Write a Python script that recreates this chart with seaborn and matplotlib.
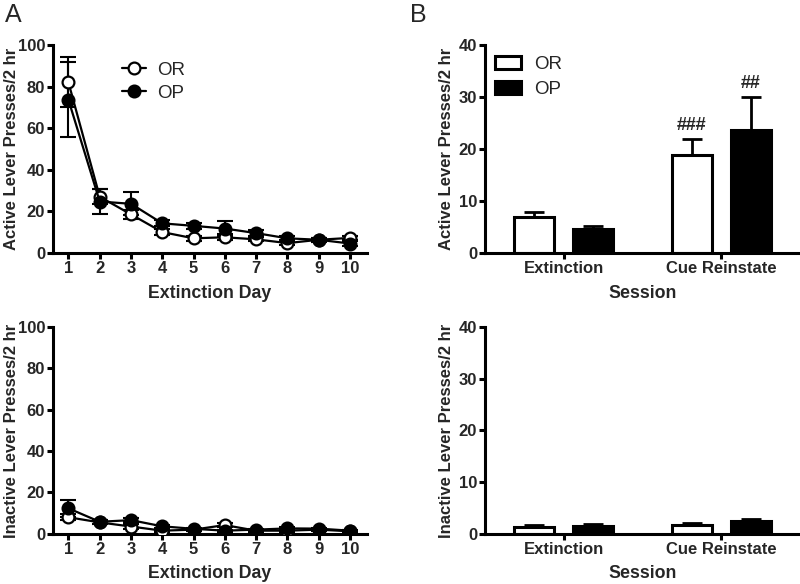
import matplotlib
import matplotlib.pyplot as plt
import numpy as np
import pandas as pd
import seaborn as sns
from matplotlib.lines import Line2D
from matplotlib.patches import Patch

matplotlib.use("Agg")

# ---- data ----
days = [1, 2, 3, 4, 5, 6, 7, 8, 9, 10]
groups = ["OR", "OP"]
sessions = ["Extinction", "Cue Reinstate"]

active_or = [82, 27, 18.5, 10, 7, 7.5, 6.5, 4.7, 6.3, 7.2]
active_or_sem = [12, 3.5, 2, 1.5, 1.2, 1.5, 1, 1, 1, 1]
active_op = [73.6, 24.7, 23.6, 14.2, 13, 11.7, 9.5, 7, 6.3, 4.5]
active_op_sem = [18, 5.8, 5.6, 1.5, 1.5, 3.8, 1.5, 1, 1, 1]

inactive_or = [8, 5.5, 3.5, 1.5, 2, 4.2, 1.5, 1.5, 2, 1.2]
inactive_or_sem = [1.5, 1, 1, 0.5, 0.5, 1, 0.5, 0.5, 0.5, 0.5]
inactive_op = [12.3, 5.8, 6.6, 3.6, 2.4, 1.5, 2, 2.6, 2.5, 1.5]
inactive_op_sem = [4, 1, 1, 0.8, 0.5, 0.5, 0.5, 0.5, 0.5, 0.5]

sess_active_or = [6.86, 18.8]
sess_active_or_sem = [0.95, 3.1]
sess_active_op = [4.55, 23.65]
sess_active_op_sem = [0.55, 6.25]

sess_inactive_or = [1.4, 1.7]
sess_inactive_or_sem = [0.3, 0.45]
sess_inactive_op = [1.5, 2.4]
sess_inactive_op_sem = [0.4, 0.5]

marks = {"Cue Reinstate": ["###", "##"]}

sns.set_style("ticks")
plt.rcParams["font.family"] = ["Liberation Sans", "DejaVu Sans"]

fig = plt.figure(figsize=(8, 5.84), dpi=100)
ax_a1 = fig.add_axes([0.066, 0.567, 0.393, 0.356])
ax_a2 = fig.add_axes([0.066, 0.086, 0.393, 0.354])
ax_b1 = fig.add_axes([0.606, 0.567, 0.394, 0.356])
ax_b2 = fig.add_axes([0.606, 0.086, 0.394, 0.354])


def style_axis(ax, ylab_x):
    sns.despine(ax=ax)
    for sp in ["left", "bottom"]:
        ax.spines[sp].set_linewidth(2.2)
        ax.spines[sp].set_color("black")
    ax.tick_params(width=2.2, length=4, color="black", labelsize=12, pad=2)
    ax.tick_params(axis="y", pad=1.5)
    for lab in ax.get_xticklabels() + ax.get_yticklabels():
        lab.set_fontweight("bold")
    ax.yaxis.set_label_coords(ylab_x, 0.5)


def line_panel(ax, or_vals, or_sem, op_vals, op_sem, ylabel):
    df = pd.DataFrame({"day": days * 2, "val": or_vals + op_vals,
                       "group": ["OR"] * 10 + ["OP"] * 10})
    for g, vals, sem, face in [("OR", or_vals, or_sem, "white"),
                               ("OP", op_vals, op_sem, "black")]:
        ax.errorbar(days, vals, yerr=sem, fmt="none", ecolor="black",
                    elinewidth=1.5, capsize=6, capthick=1.5, zorder=2)
        sns.lineplot(data=df[df.group == g], x="day", y="val", ax=ax,
                     color="black", linewidth=1.6, marker="o", markersize=8.5,
                     markerfacecolor=face, markeredgecolor="black",
                     markeredgewidth=1.6, errorbar=None, legend=False,
                     zorder=3)
    ax.set_xlim(0.5, 10.55)
    ax.set_ylim(0, 100)
    ax.set_xticks(days)
    ax.set_yticks([0, 20, 40, 60, 80, 100])
    ax.set_xlabel("Extinction Day", fontsize=12.8, fontweight="bold", labelpad=6)
    ax.set_ylabel(ylabel, fontsize=12, fontweight="bold", va="center")
    style_axis(ax, -0.132)


def bar_panel(ax, or_vals, or_sem, op_vals, op_sem, ylabel):
    df = pd.DataFrame({"session": sessions * 2, "val": or_vals + op_vals,
                       "group": ["OR"] * 2 + ["OP"] * 2})
    sns.barplot(data=df, x="session", y="val", hue="group", hue_order=groups,
                palette={"OR": "white", "OP": "black"}, edgecolor="black",
                linewidth=2.2, gap=0.32, width=0.75, ax=ax, legend=False,
                zorder=2)
    for cont, sem in zip(ax.containers, [or_sem, op_sem]):
        xs = [b.get_x() + b.get_width() / 2 for b in cont]
        hs = [b.get_height() for b in cont]
        ax.errorbar(xs, hs, yerr=[np.zeros(len(sem)), sem], fmt="none",
                    ecolor="black", elinewidth=2, capsize=7.5, capthick=2,
                    zorder=1)
    ax.set_xlim(-0.5, 1.5)
    ax.set_ylim(0, 40)
    ax.set_yticks([0, 10, 20, 30, 40])
    ax.set_xlabel("Session", fontsize=12.8, fontweight="bold", labelpad=6)
    ax.set_ylabel(ylabel, fontsize=12, fontweight="bold", va="center")
    style_axis(ax, -0.122)


line_panel(ax_a1, active_or, active_or_sem, active_op, active_op_sem,
           "Active Lever Presses/2 hr")
line_panel(ax_a2, inactive_or, inactive_or_sem, inactive_op, inactive_op_sem,
           "Inactive Lever Presses/2 hr")
bar_panel(ax_b1, sess_active_or, sess_active_or_sem, sess_active_op,
          sess_active_op_sem, "Active Lever Presses/2 hr")
bar_panel(ax_b2, sess_inactive_or, sess_inactive_or_sem, sess_inactive_op,
          sess_inactive_op_sem, "Inactive Lever Presses/2 hr")

# significance marks over the cue reinstatement bars
ci = sessions.index("Cue Reinstate")
tops = [sess_active_or[ci] + sess_active_or_sem[ci],
        sess_active_op[ci] + sess_active_op_sem[ci]]
for cont, txt, top in zip(ax_b1.containers, marks["Cue Reinstate"], tops):
    b = cont[ci]
    ax_b1.text(b.get_x() + b.get_width() / 2, top + 1.0, txt, ha="center",
               va="bottom", fontsize=13, fontweight="bold")

# legends
h_line = [Line2D([], [], color="black", lw=1.6, marker="o", markersize=8.5,
                 markerfacecolor=f, markeredgecolor="black", markeredgewidth=1.6)
          for f in ["white", "black"]]
ax_a1.legend(h_line, groups, loc="upper left", bbox_to_anchor=(0.165, 1.0),
             frameon=False, fontsize=13.5, handlelength=1.3, labelspacing=0.3,
             handletextpad=0.6)
h_bar = [Patch(facecolor=f, edgecolor="black", linewidth=2.2)
         for f in ["white", "black"]]
ax_b1.legend(h_bar, groups, loc="upper left", bbox_to_anchor=(-0.02, 1.03),
             frameon=False, fontsize=13.5, handlelength=1.35, handleheight=0.75,
             labelspacing=0.4, handletextpad=0.7)

fig.text(0.006, 0.975, "A", fontsize=18, va="center", ha="left")
fig.text(0.513, 0.975, "B", fontsize=18, va="center", ha="left")

fig.savefig("out.png", dpi=100)
